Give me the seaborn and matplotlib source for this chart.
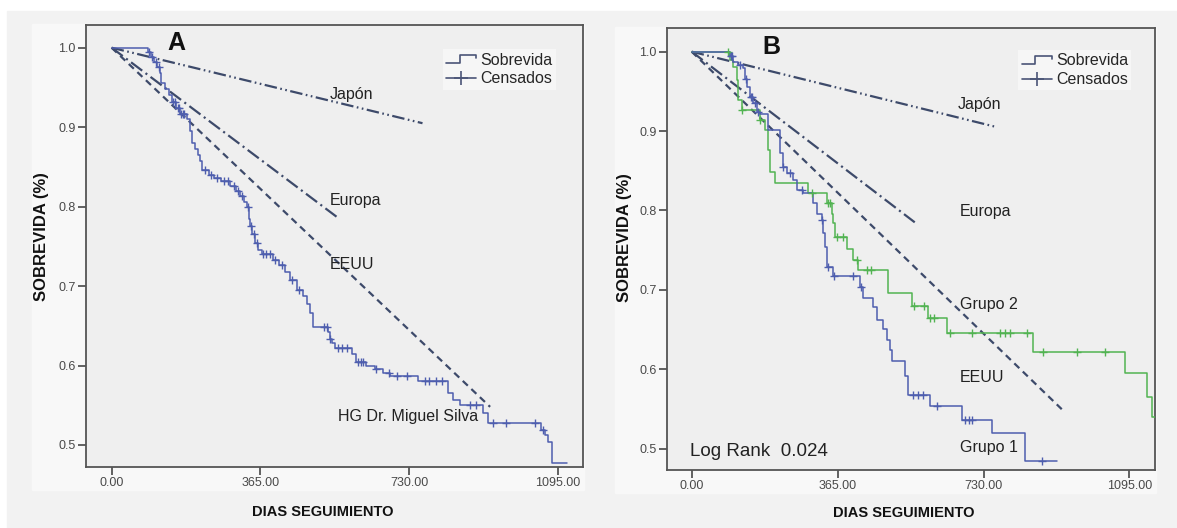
import numpy as np
import pandas as pd
import matplotlib
matplotlib.use("Agg")
import matplotlib.pyplot as plt
from matplotlib.lines import Line2D
from matplotlib.patches import Rectangle
from matplotlib.legend_handler import HandlerBase
import seaborn as sns

# ---------------- data ----------------
# Panel A: whole cohort, Kaplan-Meier steps (day, survival after the step)
a_time = [0, 88, 96, 104, 112, 118, 122, 130, 140, 147, 158, 168, 186, 192, 196,
          205, 213, 217, 221, 240, 252, 268, 290, 305, 315, 325, 332, 336, 340,
          345, 352, 360, 368, 395, 410, 425, 438, 454, 470, 480, 487, 495, 530,
          536, 542, 548, 590, 601, 625, 646, 666, 683, 753, 826, 839, 855, 912,
          925, 1055, 1064, 1072, 1080, 1117]
a_surv = [1.0, 0.994, 0.988, 0.982, 0.976, 0.968, 0.955, 0.948, 0.940, 0.932,
          0.924, 0.917, 0.910, 0.895, 0.880, 0.872, 0.865, 0.858, 0.846, 0.840,
          0.836, 0.832, 0.826, 0.820, 0.813, 0.806, 0.799, 0.785, 0.775, 0.766,
          0.754, 0.746, 0.740, 0.733, 0.726, 0.718, 0.708, 0.695, 0.687, 0.678,
          0.666, 0.649, 0.642, 0.634, 0.628, 0.622, 0.614, 0.605, 0.599, 0.596,
          0.590, 0.587, 0.580, 0.565, 0.557, 0.550, 0.540, 0.528, 0.519, 0.512,
          0.504, 0.477, 0.477]
a_cens = [92, 100, 108, 115, 150, 155, 162, 165, 170, 175, 178, 230, 245, 258,
          275, 285, 300, 310, 320, 334, 342, 350, 356, 372, 380, 388, 402, 418,
          442, 460, 520, 528, 536, 555, 565, 578, 604, 612, 618, 650, 680, 700,
          725, 768, 780, 795, 810, 880, 895, 935, 968, 1040, 1060]

# Panel B: Grupo 1
g1_time = [0, 96, 104, 117, 129, 133, 138, 146, 154, 163, 170, 192, 221, 229,
           238, 254, 263, 279, 304, 313, 325, 329, 333, 338, 354, 421, 429, 454,
           463, 479, 488, 496, 500, 534, 542, 596, 675, 750, 834, 913]
g1_surv = [1.0, 0.994, 0.987, 0.983, 0.979, 0.966, 0.956, 0.943, 0.935, 0.924,
           0.922, 0.901, 0.872, 0.855, 0.847, 0.838, 0.826, 0.822, 0.809, 0.796,
           0.788, 0.771, 0.754, 0.729, 0.718, 0.704, 0.690, 0.678, 0.662, 0.650,
           0.637, 0.624, 0.610, 0.591, 0.568, 0.553, 0.536, 0.519, 0.484, 0.484]
g1_cens = [98, 102, 120, 135, 148, 152, 158, 165, 229, 246, 275, 325, 340, 356,
           404, 423, 554, 565, 579, 613, 684, 694, 701, 876]

# Panel B: Grupo 2
g2_time = [0, 96, 104, 113, 117, 125, 171, 183, 192, 196, 208, 292, 338, 350,
           354, 358, 388, 404, 417, 492, 550, 592, 638, 855, 1084, 1138, 1152, 1165]
g2_surv = [1.0, 0.990, 0.981, 0.964, 0.939, 0.927, 0.914, 0.901, 0.876, 0.849,
           0.834, 0.822, 0.809, 0.796, 0.784, 0.767, 0.752, 0.738, 0.725, 0.696,
           0.679, 0.664, 0.645, 0.622, 0.595, 0.565, 0.540, 0.540]
g2_cens = [90, 127, 171, 300, 340, 346, 363, 379, 413, 438, 448, 555, 580, 597,
           606, 645, 700, 771, 785, 796, 838, 880, 963, 1034]

# Reference survival lines (straight from day 0, survival 1.0)
ref_names = ["Japón", "Europa", "EEUU"]
ref_end_day = [763, 558, 929]
ref_end_surv = [0.905, 0.785, 0.548]

x_ticks = [0, 365, 730, 1095]
x_ticklabels = ["0.00", "365.00", "730.00", "1095.00"]
y_ticks = [0.5, 0.6, 0.7, 0.8, 0.9, 1.0]
y_ticklabels = ["0.5", "0.6", "0.7", "0.8", "0.9", "1.0"]

# ---------------- style ----------------
sns.set_theme(style="white")
plt.rcParams["font.family"] = ["Liberation Sans", "DejaVu Sans"]
plt.rcParams["lines.scale_dashes"] = False

W, H = 1177, 528
BLUE = "#4e5eae"
GREEN = "#52b352"
REF = "#3d4a6a"
AXC = "#555555"
TXT = "#222222"

ref_styles = {
    "Japón": (0, (9, 2.5, 1.2, 2.5, 1.2, 2.5)),
    "Europa": (0, (10, 3, 1.5, 3)),
    "EEUU": (0, (5, 3.5)),
}


def fr(x0, y0, x1, y1):
    """Pixel box (top-left origin) to figure-fraction rectangle."""
    return (x0 / W, 1 - y1 / H, (x1 - x0) / W, (y1 - y0) / H)


def km_at(times, surv, t):
    idx = np.searchsorted(np.asarray(times), np.asarray(t), side="right") - 1
    return np.asarray(surv)[idx]


class StepHandler(HandlerBase):
    def create_artists(self, legend, orig_handle, xdescent, ydescent,
                       width, height, fontsize, trans):
        x0 = -xdescent
        x1 = x0 + width
        xm = x0 + 0.45 * width
        lo = -ydescent + 0.15 * height
        hi = -ydescent + 0.85 * height
        ln = Line2D([x0, xm, xm, x1, x1], [lo, lo, hi, hi, hi - 0.3 * height],
                    color=orig_handle.get_color(),
                    lw=orig_handle.get_linewidth(), transform=trans)
        return [ln]


fig = plt.figure(figsize=(W / 100, H / 100), dpi=100)
fig.patch.set_facecolor("white")
fig.add_artist(Rectangle(fr(7, 11, W, H)[:2], fr(7, 11, W, H)[2], fr(7, 11, W, H)[3],
                         transform=fig.transFigure, color="#f2f2f2", zorder=-20))
for box in [(32, 24, 584, 490), (615, 27, 1156, 493)]:
    r = fr(*box)
    fig.add_artist(Rectangle(r[:2], r[2], r[3], transform=fig.transFigure,
                             color="#f8f8f8", zorder=-19))

axA = fig.add_axes([86 / W, 1 - 467 / H, (583 - 86) / W, (467 - 25) / H])
axB = fig.add_axes([667.3 / W, 1 - 470 / H, (1155 - 667.3) / W, (470 - 28) / H])


def draw_refs(ax):
    for name, d, s in zip(ref_names, ref_end_day, ref_end_surv):
        df = pd.DataFrame({"dia": [0, d], "sobrevida": [1.0, s]})
        sns.lineplot(data=df, x="dia", y="sobrevida", ax=ax, color=REF, lw=1.6,
                     linestyle=ref_styles[name], estimator=None, sort=False,
                     legend=False, zorder=3)


def draw_km(ax, times, surv, cens, color):
    df = pd.DataFrame({"dia": times, "sobrevida": surv})
    sns.lineplot(data=df, x="dia", y="sobrevida", ax=ax, color=color, lw=1.1,
                 drawstyle="steps-post", estimator=None, sort=False,
                 legend=False, zorder=4)
    dc = pd.DataFrame({"dia": cens, "sobrevida": km_at(times, surv, cens)})
    sns.scatterplot(data=dc, x="dia", y="sobrevida", ax=ax, color=color,
                    marker="+", s=30, linewidth=1.0, legend=False, zorder=5)


def style_axes(ax, xlim, ylim):
    ax.set_facecolor("#efefef")
    ax.set_xlim(*xlim)
    ax.set_ylim(*ylim)
    ax.set_xticks(x_ticks)
    ax.set_xticklabels(x_ticklabels)
    ax.set_yticks(y_ticks)
    ax.set_yticklabels(y_ticklabels)
    ax.set_xlabel("")
    ax.set_ylabel("")
    for sp in ax.spines.values():
        sp.set_color(AXC)
        sp.set_linewidth(1.3)
        sp.set_visible(True)
    ax.tick_params(direction="out", length=6, width=1.3, color=AXC,
                   labelcolor="#4a4a4a", labelsize=9, pad=1.5,
                   bottom=True, left=True)


def add_legend(ax, anchor):
    step_h = Line2D([], [], color="#4b5577", lw=1.2)
    cens_h = Line2D([], [], color="#4b5577", lw=1.2, marker="+", ms=10,
                    markeredgewidth=1.2)
    ax.legend(handles=[step_h, cens_h], labels=["Sobrevida", "Censados"],
              handler_map={step_h: StepHandler()}, loc="upper left",
              bbox_to_anchor=anchor, borderaxespad=0, frameon=True,
              fancybox=False, facecolor="#f6f6f6", edgecolor="none",
              framealpha=1, fontsize=11.5, handlelength=1.9,
              handletextpad=0.25, labelspacing=0.25, borderpad=0.2)


# ---------------- panel A ----------------
draw_refs(axA)
draw_km(axA, a_time, a_surv, a_cens, BLUE)
style_axes(axA, (-63, 1157), (0.4723, 1.0286))
add_legend(axA, (0.718, 0.945))
axA.text(536, 0.9405, "Japón", fontsize=11.5, color=TXT, va="center", ha="left", zorder=6)
axA.text(536, 0.808, "Europa", fontsize=11.5, color=TXT, va="center", ha="left", zorder=6)
axA.text(536, 0.727, "EEUU", fontsize=11.5, color=TXT, va="center", ha="left", zorder=6)
axA.text(556, 0.536, "HG Dr. Miguel Silva", fontsize=11.5, color=TXT,
         va="center", ha="left", zorder=6)

# ---------------- panel B ----------------
draw_refs(axB)
draw_km(axB, g2_time, g2_surv, g2_cens, GREEN)
draw_km(axB, g1_time, g1_surv, g1_cens, BLUE)
style_axes(axB, (-61, 1159), (0.473, 1.0298))
add_legend(axB, (0.720, 0.950))
axB.text(666, 0.933, "Japón", fontsize=11.5, color=TXT, va="center", ha="left", zorder=6)
axB.text(671, 0.799, "Europa", fontsize=11.5, color=TXT, va="center", ha="left", zorder=6)
axB.text(671, 0.681, "Grupo 2", fontsize=11.5, color=TXT, va="center", ha="left", zorder=6)
axB.text(671, 0.590, "EEUU", fontsize=11.5, color=TXT, va="center", ha="left", zorder=6)
axB.text(671, 0.501, "Grupo 1", fontsize=11.5, color=TXT, va="center", ha="left", zorder=6)
axB.text(-4, 0.496, "Log Rank  0.024", fontsize=13.5, color=TXT, va="center",
         ha="left", zorder=6)

# ---------------- panel letters and axis titles ----------------
fig.text(176 / W, 1 - 42.6 / H, "A", fontsize=18, fontweight="bold",
         color="#111111", ha="center", va="center")
fig.text(771.7 / W, 1 - 46.7 / H, "B", fontsize=18, fontweight="bold",
         color="#111111", ha="center", va="center")
for cx, cy in [(41.7, 236.5), (625, 238)]:
    fig.text(cx / W, 1 - cy / H, "SOBREVIDA (%)", fontsize=12, fontweight="bold",
             color="#111111", rotation=90, ha="center", va="center")
for cx, cy in [(323, 511.7), (904, 513)]:
    fig.text(cx / W, 1 - cy / H, "DIAS SEGUIMIENTO", fontsize=10.5,
             fontweight="bold", color="#111111", ha="center", va="center")

fig.savefig("out.png", dpi=100, facecolor=fig.get_facecolor())
